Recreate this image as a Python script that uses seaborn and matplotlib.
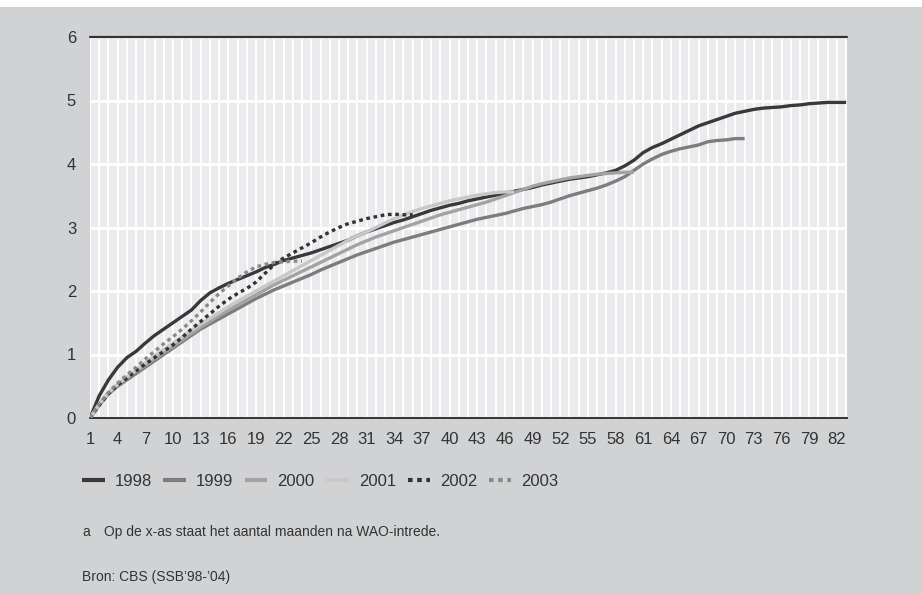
import numpy as np
import pandas as pd
import matplotlib
matplotlib.use("Agg")
import matplotlib.pyplot as plt
import seaborn as sns
from matplotlib.patches import Rectangle

# cumulative values per month after WAO entry, by cohort
v1998 = [0, 0.35, 0.6, 0.8, 0.95, 1.05, 1.18, 1.3, 1.4, 1.5, 1.6, 1.7, 1.85, 1.97, 2.05,
         2.12, 2.18, 2.24, 2.3, 2.37, 2.42, 2.48, 2.52, 2.56, 2.6, 2.65, 2.7, 2.75, 2.8, 2.87,
         2.93, 2.98, 3.03, 3.08, 3.12, 3.17, 3.22, 3.27, 3.31, 3.35, 3.38, 3.42, 3.45, 3.48, 3.51,
         3.54, 3.57, 3.6, 3.63, 3.67, 3.7, 3.73, 3.76, 3.78, 3.8, 3.83, 3.86, 3.9, 3.97, 4.06,
         4.18, 4.26, 4.32, 4.39, 4.46, 4.53, 4.6, 4.65, 4.7, 4.75, 4.8, 4.83, 4.86, 4.88, 4.89,
         4.9, 4.92, 4.93, 4.95, 4.96, 4.97, 4.97, 4.97]
v1999 = [0, 0.2, 0.38, 0.5, 0.6, 0.7, 0.8, 0.9, 1.0, 1.1, 1.2, 1.3, 1.4, 1.48, 1.56,
         1.64, 1.72, 1.8, 1.88, 1.95, 2.02, 2.08, 2.14, 2.2, 2.26, 2.33, 2.39, 2.45, 2.51, 2.57,
         2.62, 2.67, 2.72, 2.77, 2.81, 2.85, 2.89, 2.93, 2.97, 3.01, 3.05, 3.09, 3.13, 3.16, 3.19,
         3.22, 3.26, 3.3, 3.33, 3.36, 3.4, 3.45, 3.5, 3.54, 3.58, 3.62, 3.67, 3.73, 3.8, 3.9,
         4.0, 4.08, 4.15, 4.2, 4.24, 4.27, 4.3, 4.35, 4.37, 4.38, 4.4, 4.4]
v2000 = [0, 0.22, 0.4, 0.52, 0.63, 0.73, 0.83, 0.93, 1.03, 1.13, 1.23, 1.33, 1.43, 1.52, 1.61,
         1.7, 1.78, 1.86, 1.94, 2.02, 2.1, 2.17, 2.24, 2.31, 2.38, 2.45, 2.52, 2.59, 2.66, 2.73,
         2.79, 2.85, 2.9, 2.95, 3.0, 3.05, 3.1, 3.15, 3.2, 3.24, 3.28, 3.32, 3.36, 3.4, 3.45,
         3.5, 3.55, 3.6, 3.65, 3.69, 3.72, 3.75, 3.78, 3.8, 3.82, 3.84, 3.85, 3.86, 3.87, 3.87]
v2001 = [0, 0.22, 0.4, 0.53, 0.65, 0.76, 0.87, 0.98, 1.08, 1.18, 1.28, 1.38, 1.48, 1.57, 1.66,
         1.75, 1.84, 1.92, 2.0, 2.08, 2.16, 2.24, 2.32, 2.4, 2.48, 2.56, 2.64, 2.72, 2.8, 2.87,
         2.93, 3.0, 3.07, 3.14, 3.2, 3.25, 3.3, 3.34, 3.38, 3.42, 3.45, 3.48, 3.51, 3.53, 3.55,
         3.56, 3.56]
v2002 = [0, 0.2, 0.38, 0.52, 0.63, 0.74, 0.85, 0.95, 1.05, 1.15, 1.27, 1.4, 1.52, 1.64, 1.76,
         1.87, 1.96, 2.04, 2.14, 2.28, 2.42, 2.52, 2.6, 2.68, 2.76, 2.85, 2.93, 3.0, 3.06, 3.1,
         3.14, 3.17, 3.2, 3.21, 3.2, 3.2]
v2003 = [0, 0.22, 0.4, 0.55, 0.68, 0.8, 0.93, 1.05, 1.17, 1.28, 1.4, 1.53, 1.67, 1.82, 1.96,
         2.08, 2.2, 2.3, 2.38, 2.42, 2.45, 2.46, 2.47, 2.47]

years = ["1998", "1999", "2000", "2001", "2002", "2003"]
series = [v1998, v1999, v2000, v2001, v2002, v2003]
colors = ["#393939", "#7d7d7d", "#a3a3a3", "#c8c8c8", "#333333", "#8a8a8a"]
styles = ["-", "-", "-", "-", (0, (1.1, 1.1)), (0, (1.1, 1.1))]

bg = "#d1d2d4"
panel = "#ebebed"
ink = "#333333"

sns.set_style("white")
plt.rcParams["font.family"] = ["Liberation Sans", "DejaVu Sans"]

fig = plt.figure(figsize=(9.22, 5.94), dpi=100, facecolor=bg)
fig.patches.append(Rectangle((0, 1 - 7 / 594), 1, 7 / 594, transform=fig.transFigure,
                             facecolor="white", edgecolor="none", zorder=0))
ax = fig.add_axes([90 / 922, 1 - 418 / 594, 757 / 922, 381 / 594])
ax.set_facecolor(panel)

for yr, vals, c, ls in zip(years, series, colors, styles):
    m = np.arange(1, len(vals) + 1)
    sns.lineplot(x=m, y=vals, ax=ax, color=c, lw=2.4, linestyle=ls,
                 label=yr, solid_capstyle="butt", dash_capstyle="butt", zorder=3)

ax.set_xlim(1, 83.1)
ax.set_ylim(0, 6)
ax.set_xticks(np.arange(1, 83, 3))
ax.set_xticks(np.arange(1, 84, 1), minor=True)
ax.set_yticks(range(0, 7))
ax.grid(True, which="minor", axis="x", color="white", lw=1.4, zorder=1)
ax.grid(True, which="major", axis="x", color="white", lw=1.4, zorder=1)
ax.grid(True, which="major", axis="y", color="white", lw=2.2, zorder=1)
ax.axhline(6, color=ink, lw=1.6, zorder=4, clip_on=False)
for s in ["left", "right", "top"]:
    ax.spines[s].set_visible(False)
ax.spines["bottom"].set_color(ink)
ax.spines["bottom"].set_linewidth(1.4)
ax.tick_params(axis="x", which="major", length=6, width=1.2, color=ink,
               labelsize=12, labelcolor=ink, pad=4)
ax.tick_params(axis="x", which="minor", length=3.5, width=1.0, color=ink)
ax.tick_params(axis="y", length=0, labelsize=12, labelcolor=ink, pad=10)
ax.set_xlabel("")
ax.set_ylabel("")

leg = ax.legend(loc="center left", bbox_to_anchor=(82 / 922, 1 - 481 / 594),
                bbox_transform=fig.transFigure, ncol=6, frameon=False, fontsize=12,
                handlelength=1.35, handletextpad=0.6, columnspacing=0.7,
                borderpad=0, borderaxespad=0, labelcolor=ink)
for h in leg.get_lines():
    h.set_linewidth(3.0)

fig.text(82 / 922, 1 - 532 / 594, "a", fontsize=10, color=ink, va="center")
fig.text(104 / 922, 1 - 532 / 594, "Op de x-as staat het aantal maanden na WAO-intrede.",
         fontsize=10, color=ink, va="center")
fig.text(82 / 922, 1 - 577 / 594, "Bron: CBS (SSB\u201998-\u201904)", fontsize=10,
         color=ink, va="center")

fig.savefig("out.png", dpi=100, facecolor=bg)
